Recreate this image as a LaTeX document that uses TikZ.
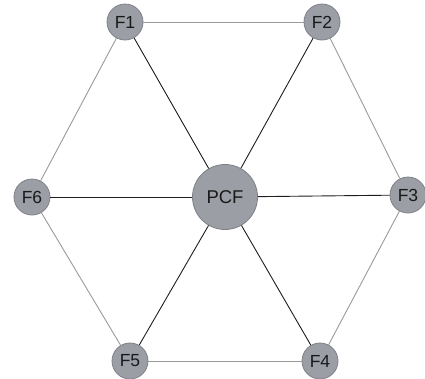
\documentclass[tikz,border=0pt]{standalone}
\usepackage{fontspec}
\setmainfont{Liberation Sans}
\definecolor{nodefill}{HTML}{9C9EA6}
\definecolor{nodeedge}{HTML}{7E8087}
\definecolor{rimline}{HTML}{9A9A9A}
\definecolor{spokeline}{HTML}{1E1E1E}
\begin{document}
\begin{tikzpicture}[x=1pt,y=-1pt,
  feeder/.style={circle, fill=nodefill, draw=nodeedge, line width=0.8pt, minimum size=36pt, inner sep=0pt, text=black!90, font=\fontsize{17.5}{17.5}\selectfont},
  hub/.style={feeder, minimum size=65pt, font=\fontsize{18.5}{18.5}\selectfont},
  spoke/.style={draw=spokeline, line width=0.9pt},
  rim/.style={draw=rimline, line width=0.9pt}]

\clip (0,0) rectangle (425,378);

% Place nodes
\node[hub] (pcf) at (225,197) {PCF};
\node[feeder] (f1) at (125,22) {F1};
\node[feeder] (f2) at (322,22) {F2};
\node[feeder] (f3) at (408,195) {F3};
\node[feeder] (f4) at (320,361) {F4};
\node[feeder] (f5) at (130,361) {F5};
\node[feeder] (f6) at (32,197) {F6};

% Outer ring
\path[rim] (f1) -- (f2);
\path[rim] (f2) -- (f3);
\path[rim] (f3) -- (f4);
\path[rim] (f4) -- (f5);
\path[rim] (f5) -- (f6);
\path[rim] (f6) -- (f1);

% Spokes to the hub
\foreach \f in {f1,f2,f3,f4,f5,f6}
  \path[spoke] (pcf) -- (\f);

\end{tikzpicture}
\end{document}
